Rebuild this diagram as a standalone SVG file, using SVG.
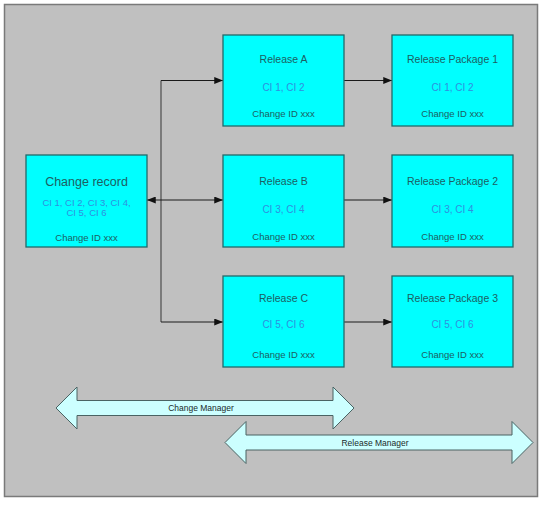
<svg xmlns="http://www.w3.org/2000/svg" width="546" height="508" viewBox="0 0 546 508">
<style>
.box{fill:#00ffff;stroke:#236a6a;stroke-width:1.3}
.t{font-family:"Liberation Sans",Arial,sans-serif;text-anchor:middle;fill:#1d5e62}
.title{font-size:10.5px}
.ci{font-size:10px;fill:#2f8fe0}
.id{font-size:9.5px}
.conn{stroke:#1a1a1a;stroke-width:1;fill:none}
.vline{stroke:#555;stroke-width:1.3;fill:none}
.band{fill:#ccffff;stroke:#4a6363;stroke-width:1}
.bl{font-family:"Liberation Sans",Arial,sans-serif;font-size:8.5px;fill:#1a2a2a;text-anchor:middle}
</style>
<defs>
<marker id="ah" viewBox="0 0 10 8" refX="10" refY="4" markerWidth="9" markerHeight="7" markerUnits="userSpaceOnUse" orient="auto-start-reverse">
<path d="M0,0 L10,4 L0,8 Z" fill="#111"/>
</marker>
</defs>
<rect x="0" y="0" width="546" height="508" fill="#ffffff"/>
<rect id="frame" x="4.5" y="4.5" width="533" height="492" fill="#c0c0c0" stroke="#7a7a7a" stroke-width="1.5"/>

<g id="connectors">
<path class="vline" d="M161,80.5 V322"/>
<path class="conn" d="M161,80.5 H223" marker-end="url(#ah)"/>
<path class="conn" d="M161,322 H223" marker-end="url(#ah)"/>
<path class="conn" d="M147,200 H223" marker-start="url(#ah)" marker-end="url(#ah)"/>
<path class="conn" d="M344,80.5 H392" marker-end="url(#ah)"/>
<path class="conn" d="M344,200 H392" marker-end="url(#ah)"/>
<path class="conn" d="M344,322 H392" marker-end="url(#ah)"/>
</g>

<g id="change-record">
<rect class="box" x="26" y="155" width="121" height="92"/>
<text class="t" x="86.5" y="186" style="font-size:12.5px">Change record</text>
<text class="t ci" x="86.5" y="206" style="font-size:9.5px">CI 1, CI 2, CI 3, CI 4,</text>
<text class="t ci" x="86.5" y="216" style="font-size:9.5px">CI 5, CI 6</text>
<text class="t id" x="86.5" y="241">Change ID xxx</text>
</g>

<g id="release-a">
<rect class="box" x="223" y="35" width="121" height="91"/>
<text class="t title" x="283.5" y="63">Release A</text>
<text class="t ci" x="283.5" y="91">CI 1, CI 2</text>
<text class="t id" x="283.5" y="117">Change ID xxx</text>
</g>

<g id="release-package-1">
<rect class="box" x="392" y="35" width="121" height="91"/>
<text class="t title" x="452.5" y="63">Release Package 1</text>
<text class="t ci" x="452.5" y="91">CI 1, CI 2</text>
<text class="t id" x="452.5" y="117">Change ID xxx</text>
</g>

<g id="release-b">
<rect class="box" x="223" y="155" width="121" height="92"/>
<text class="t title" x="283.5" y="185">Release B</text>
<text class="t ci" x="283.5" y="213">CI 3, CI 4</text>
<text class="t id" x="283.5" y="240">Change ID xxx</text>
</g>

<g id="release-package-2">
<rect class="box" x="392" y="155" width="121" height="92"/>
<text class="t title" x="452.5" y="185">Release Package 2</text>
<text class="t ci" x="452.5" y="213">CI 3, CI 4</text>
<text class="t id" x="452.5" y="240">Change ID xxx</text>
</g>

<g id="release-c">
<rect class="box" x="223" y="276" width="121" height="91"/>
<text class="t title" x="283.5" y="302">Release C</text>
<text class="t ci" x="283.5" y="328">CI 5, CI 6</text>
<text class="t id" x="283.5" y="358">Change ID xxx</text>
</g>

<g id="release-package-3">
<rect class="box" x="392" y="276" width="121" height="91"/>
<text class="t title" x="452.5" y="302">Release Package 3</text>
<text class="t ci" x="452.5" y="328">CI 5, CI 6</text>
<text class="t id" x="452.5" y="358">Change ID xxx</text>
</g>

<g id="change-manager">
<path class="band" d="M56,408 L77,387 V400.5 H333 V387 L354,408 L333,429 V415.5 H77 V429 Z"/>
<text class="bl" x="201" y="411">Change Manager</text>
</g>

<g id="release-manager">
<path class="band" d="M225,442.5 L246,421.5 V435 H512 V421.5 L533,442.5 L512,463.5 V450 H246 V463.5 Z"/>
<text class="bl" x="375" y="445.5">Release Manager</text>
</g>
</svg>
